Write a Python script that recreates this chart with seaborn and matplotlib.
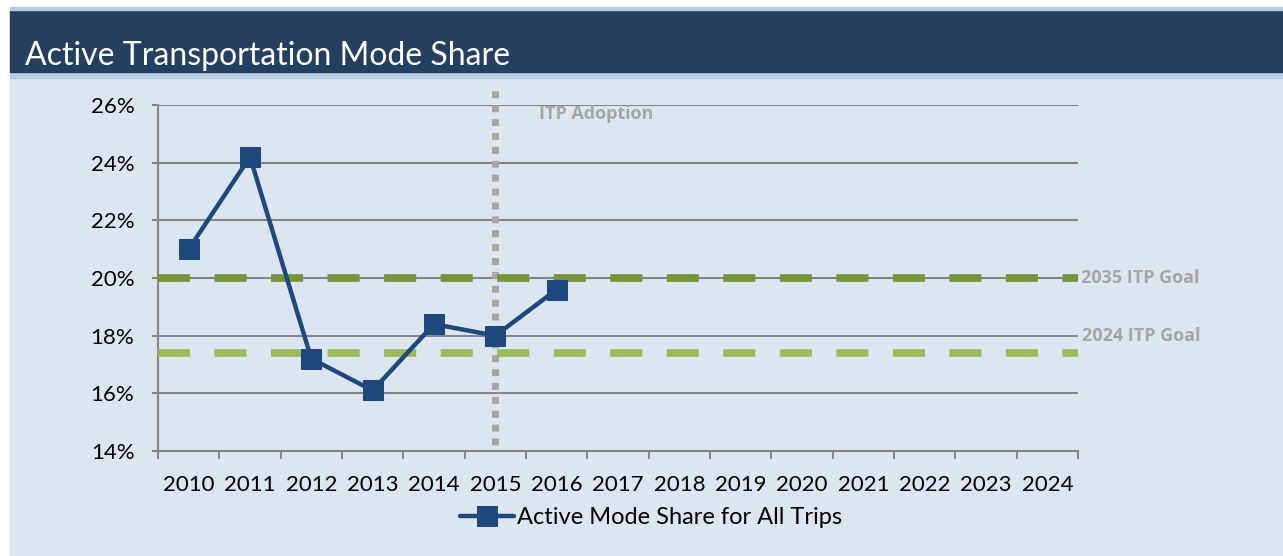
import numpy as np
import pandas as pd
import matplotlib
matplotlib.use("Agg")
import matplotlib.pyplot as plt
import matplotlib.patches as mpatches
import matplotlib.transforms as mtransforms
import seaborn as sns

# -------------------------------
# Data
# -------------------------------
years = [2010, 2011, 2012, 2013, 2014, 2015, 2016]
mode_share = [21.0, 24.2, 17.2, 16.1, 18.4, 18.0, 19.6]
axis_years = list(range(2010, 2025))
goal_2035 = 20.0
goal_2024 = 17.4
adoption_year = 2015
y_ticks = [14, 16, 18, 20, 22, 24, 26]

series_name = "Active Mode Share for All Trips"
title = "Active Transportation Mode Share"

df = pd.DataFrame({"Year": years, "Share": mode_share})

# -------------------------------
# Colours
# -------------------------------
navy = "#1f497d"
header = "#243f60"
strip = "#b8cce4"
panel = "#dce6f1"
grid = "#868686"
goal_dark = "#77933c"
goal_light = "#9bbb59"
note_gray = "#a6a6a6"

sns.set_theme(style="white")
plt.rcParams["font.family"] = ["Lato", "DejaVu Sans"]
note_font = dict(family=["Open Sans", "DejaVu Sans"], fontweight="bold", fontsize=13,
                 color=note_gray, va="center", ha="left")

W, H = 1283, 556
fig = plt.figure(figsize=(W / 100, H / 100), dpi=100, facecolor="white")

# background blocks (figure coords)
blocks = [(0, 478, panel), (478, 6, strip), (484, 62, header), (546, 3, strip)]
for y0, h, c in blocks:
    fig.patches.append(mpatches.Rectangle((10 / W, y0 / H), 1 - 10 / W, h / H,
                                          transform=fig.transFigure, color=c, zorder=-5))
fig.text(25 / W, (H - 56) / H, title, color="white", fontsize=23, va="center",
         ha="left", fontweight="normal")

ax = fig.add_axes([158 / W, 105 / H, 920 / W, 346 / H])
ax.set_facecolor("none")

sns.lineplot(data=df, x="Year", y="Share", ax=ax, color=navy, linewidth=3.2,
             marker="s", markersize=14, markeredgecolor=navy, label=series_name,
             zorder=5)

# goal lines
ax.axhline(goal_2035, color=goal_dark, linewidth=5.5, dashes=(4.2, 3.2), zorder=4)
ax.axhline(goal_2024, color=goal_light, linewidth=5.5, dashes=(4.2, 3.2), zorder=4)

# adoption marker
ax.axvline(adoption_year, ymin=0.017, ymax=1.05, color=note_gray, linewidth=5,
           dashes=(1, 1), clip_on=False, zorder=3)
ax.text(adoption_year + 0.72, 25.7, "ITP Adoption", **note_font)

trans = mtransforms.blended_transform_factory(ax.transAxes, ax.transData)
ax.text(1.003, goal_2035, "2035 ITP Goal", transform=trans, **note_font)
ax.text(1.004, 18.0, "2024 ITP Goal", transform=trans, **note_font)

# axes
ax.set_xlim(axis_years[0] - 0.5, axis_years[-1] + 0.5)
ax.set_ylim(y_ticks[0], y_ticks[-1])
ax.set_yticks(y_ticks)
ax.set_yticklabels([f"{v}%" for v in y_ticks], fontsize=16, color="black")
ax.yaxis.grid(True, color=grid, linewidth=1.5)
ax.set_axisbelow(True)

ax.set_xticks([y - 0.5 for y in axis_years] + [axis_years[-1] + 0.5])
ax.set_xticklabels([])
ax.set_xticks(axis_years, minor=True)
ax.set_xticklabels([str(y) for y in axis_years], minor=True, fontsize=16, color="black")
ax.tick_params(axis="x", which="major", direction="out", length=6, width=1.5, color=grid,
               bottom=True)
ax.tick_params(axis="x", which="minor", length=0, pad=17, bottom=True)
ax.tick_params(axis="y", direction="out", length=4, width=1.5, color=grid, pad=13,
               left=True)
ax.set_xlabel("")
ax.set_ylabel("")

for side in ["top", "right"]:
    ax.spines[side].set_visible(False)
for side in ["left", "bottom"]:
    ax.spines[side].set_color(grid)
    ax.spines[side].set_linewidth(1.5)

ax.get_legend().remove()
handles, labels = ax.get_legend_handles_labels()
leg = fig.legend(handles, labels, loc="center", bbox_to_anchor=(651 / W, (H - 518) / H),
                 frameon=False, fontsize=17, handlelength=2.3, handletextpad=0.15,
                 borderpad=0)
for t in leg.get_texts():
    t.set_color("black")

fig.savefig("out.png", dpi=100, facecolor="white")
